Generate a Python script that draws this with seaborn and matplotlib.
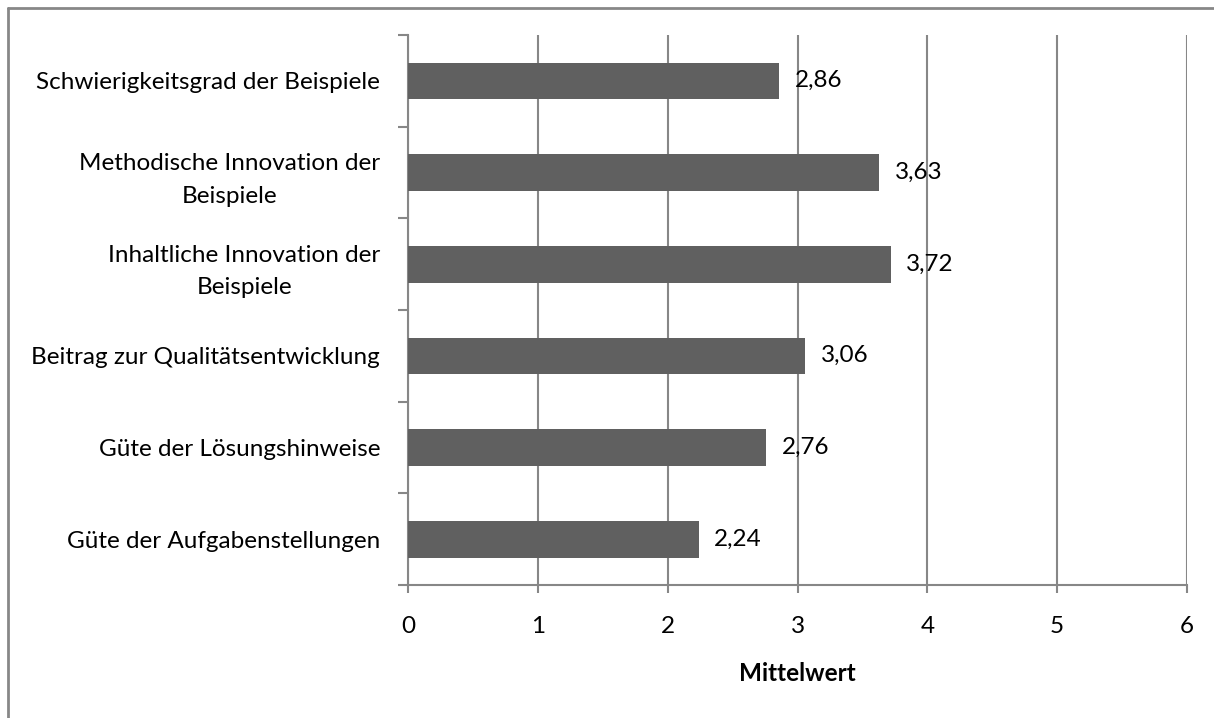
import matplotlib
matplotlib.use("Agg")
import matplotlib.pyplot as plt
import seaborn as sns
import pandas as pd
from matplotlib.lines import Line2D

categories = [
    "Schwierigkeitsgrad der Beispiele",
    "Methodische Innovation der\nBeispiele",
    "Inhaltliche Innovation der\nBeispiele",
    "Beitrag zur Qualitätsentwicklung",
    "Güte der Lösungshinweise",
    "Güte der Aufgabenstellungen",
]
values = [2.86, 3.63, 3.72, 3.06, 2.76, 2.24]
xticks = [0, 1, 2, 3, 4, 5, 6]
xlabel = "Mittelwert"

sns.set_theme(style="white")
plt.rcParams['font.family'] = ['Lato', 'DejaVu Sans']

FS = 17.5
df = pd.DataFrame({"cat": categories, "val": values})

fig = plt.figure(figsize=(12.14, 7.18), dpi=100)
ax = fig.add_axes([408/1214, 1-585/718, (1187-408)/1214, (585-35)/718])

GRID = "#878787"
sns.barplot(data=df, x="val", y="cat", orient="h", color="#606060",
            saturation=1, width=0.4, ax=ax, zorder=3, linewidth=0)

ax.set_xlim(0, 6)
ax.set_ylim(5.5, -0.5)
ax.set_xticks(xticks)
ax.set_xticklabels([str(t) for t in xticks])
ax.xaxis.grid(True, color=GRID, linewidth=1.5, zorder=0)
ax.yaxis.grid(False)

for s in ["top", "right"]:
    ax.spines[s].set_visible(False)
for s in ["left", "bottom"]:
    ax.spines[s].set_color(GRID)
    ax.spines[s].set_linewidth(1.5)

ax.tick_params(axis="x", which="major", length=6, width=1.5, color=GRID,
               direction="out", pad=16, labelsize=FS, labelcolor="black", bottom=True)
ax.set_yticks(range(len(categories)))
ax.set_yticklabels(categories)
ax.set_yticks([i - 0.5 for i in range(len(categories) + 1)], minor=True)
ax.tick_params(axis="y", which="major", length=0, pad=20, labelsize=FS, labelcolor="black")
ax.tick_params(axis="y", which="minor", length=7, width=1.5, color=GRID,
               direction="out", left=True)
for lbl in ax.get_yticklabels():
    lbl.set_multialignment("center")
    lbl.set_linespacing(1.65)

ax.set_ylabel("")
ax.set_xlabel(xlabel, fontsize=FS, fontweight="bold", labelpad=18, color="black")

for cont in ax.containers:
    texts = ax.bar_label(cont, labels=[f"{v:.2f}".replace(".", ",") for v in values],
                         padding=11, fontsize=FS, color="black")
    for t in texts:
        t.set_y(t.get_position()[1])
        t.set_va("center")
        t.set_transform(t.get_transform() + matplotlib.transforms.ScaledTranslation(0, -2/72, fig.dpi_scale_trans))

# Chart area border (left and top visible)
fig.add_artist(Line2D([8/1214, 8/1214], [0, 1-8/718], transform=fig.transFigure,
                      color=GRID, linewidth=2))
fig.add_artist(Line2D([8/1214, 1], [1-8/718, 1-8/718], transform=fig.transFigure,
                      color=GRID, linewidth=2))

fig.savefig("out.png", dpi=100, facecolor="white")
